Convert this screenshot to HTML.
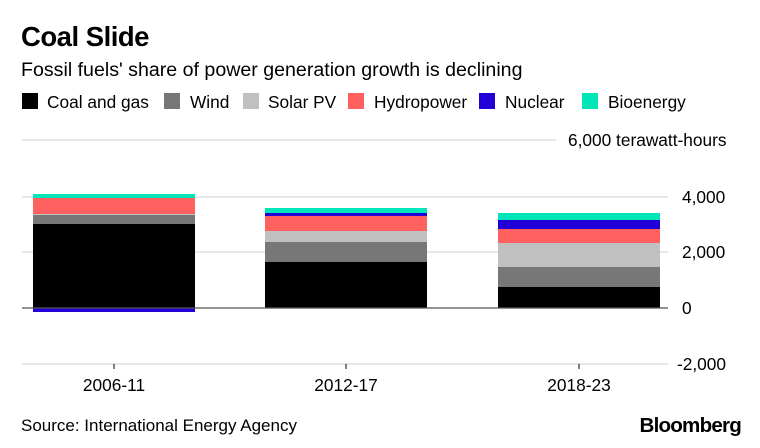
<!DOCTYPE html>
<html><head><meta charset="utf-8"><style>
body{margin:0;background:#fff;width:760px;height:443px;overflow:hidden;font-family:"Liberation Sans",Arial,sans-serif;}
</style></head><body>
<svg width="760" height="443" xmlns="http://www.w3.org/2000/svg" font-family="Liberation Sans, Arial, sans-serif">
<text x="21" y="46" font-size="27.5" font-weight="bold" fill="#000" letter-spacing="-0.5">Coal Slide</text>
<text x="21" y="76" font-size="19.6" fill="#000">Fossil fuels' share of power generation growth is declining</text>
<g font-size="17.3" fill="#000">
<rect x="22" y="93" width="16" height="16" fill="#000"/><text x="47" y="108">Coal and gas</text>
<rect x="164" y="93" width="16" height="16" fill="#777"/><text x="190" y="108">Wind</text>
<rect x="243" y="93" width="16" height="16" fill="#c0c0c0"/><text x="268" y="108">Solar PV</text>
<rect x="348" y="93" width="16" height="16" fill="#ff6161"/><text x="374" y="108">Hydropower</text>
<rect x="479" y="93" width="16" height="16" fill="#2200d8"/><text x="505" y="108">Nuclear</text>
<rect x="582" y="93" width="16" height="16" fill="#00e6b8"/><text x="608" y="108">Bioenergy</text>
</g>
<g stroke="#e0e0e0" stroke-width="1.5">
<line x1="22" y1="140" x2="556" y2="140"/>
<line x1="22" y1="197" x2="668" y2="197"/>
<line x1="22" y1="252" x2="668" y2="252"/>
<line x1="22" y1="364" x2="668" y2="364"/>
</g>
<g font-size="17.3" fill="#000">
<text x="568" y="146">6,000 terawatt-hours</text>
<text x="682" y="203">4,000</text>
<text x="682" y="258">2,000</text>
<text x="682" y="314">0</text>
<text x="677" y="370">-2,000</text>
</g>
<rect x="33" y="194" width="162" height="4" fill="#00e6b8"/>
<rect x="33" y="198" width="162" height="16" fill="#ff6161"/>
<rect x="33" y="214" width="162" height="1" fill="#c0c0c0"/>
<rect x="33" y="215" width="162" height="9" fill="#777"/>
<rect x="33" y="224" width="162" height="84" fill="#000"/>
<rect x="33" y="308" width="162" height="4" fill="#2200d8"/>
<rect x="265" y="208" width="162" height="5" fill="#00e6b8"/>
<rect x="265" y="213" width="162" height="3" fill="#2200d8"/>
<rect x="265" y="216" width="162" height="15" fill="#ff6161"/>
<rect x="265" y="231" width="162" height="11" fill="#c0c0c0"/>
<rect x="265" y="242" width="162" height="20" fill="#777"/>
<rect x="265" y="262" width="162" height="46" fill="#000"/>
<rect x="498" y="213" width="162" height="7" fill="#00e6b8"/>
<rect x="498" y="220" width="162" height="9" fill="#2200d8"/>
<rect x="498" y="229" width="162" height="14" fill="#ff6161"/>
<rect x="498" y="243" width="162" height="24" fill="#c0c0c0"/>
<rect x="498" y="267" width="162" height="20" fill="#777"/>
<rect x="498" y="287" width="162" height="21" fill="#000"/>
<line x1="22" y1="308" x2="668" y2="308" stroke="#555" stroke-width="1.2"/>
<g stroke="#000" stroke-width="1"><line x1="114" y1="364" x2="114" y2="369"/><line x1="346" y1="364" x2="346" y2="369"/><line x1="579" y1="364" x2="579" y2="369"/></g>
<g font-size="17.3" fill="#000" text-anchor="middle">
<text x="114" y="391">2006-11</text><text x="346" y="391">2012-17</text><text x="579" y="391">2018-23</text>
</g>
<text x="21" y="431" font-size="17" fill="#000">Source: International Energy Agency</text>
<text x="741" y="432" font-size="20.6" font-weight="bold" fill="#000" text-anchor="end" letter-spacing="-0.8">Bloomberg</text>
</svg>
</body></html>
